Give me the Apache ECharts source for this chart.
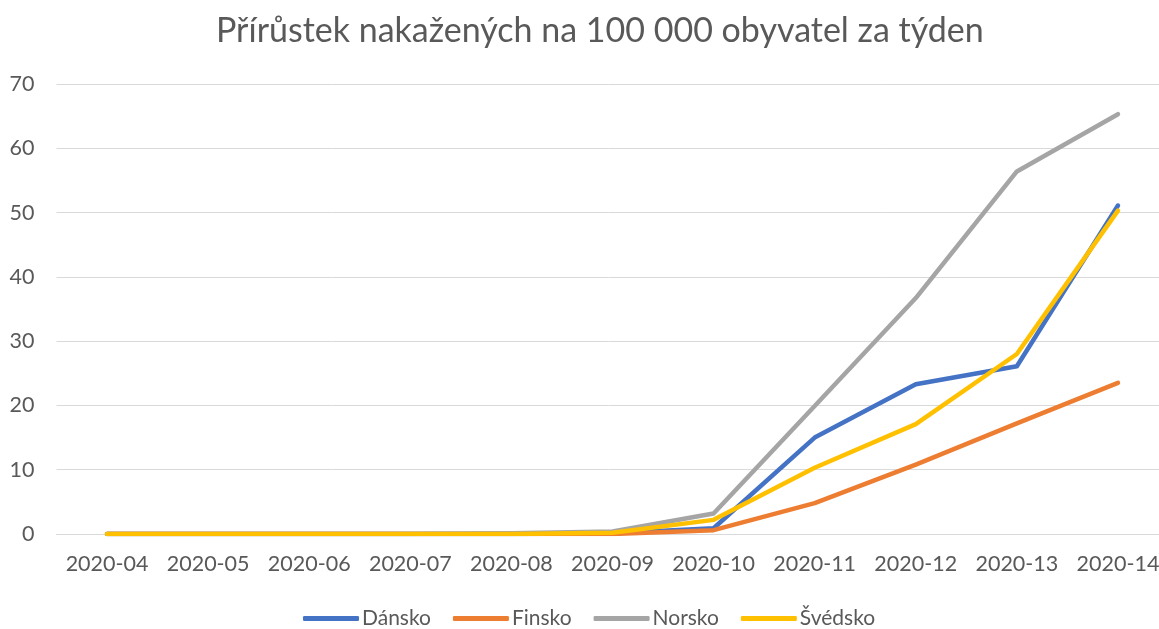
<!DOCTYPE html>
<html>
<head>
<meta charset="utf-8">
<title>Přírůstek nakažených</title>
<script src="https://cdn.jsdelivr.net/npm/echarts@6/dist/echarts.min.js"></script>
<style>
    html, body { margin: 0; padding: 0; background: #fff; }
    #graf { width: 1159px; height: 629px; }
</style>
</head>
<body>
<div id="graf"></div>
<script>
// tydny (osa x)
const tydny = ['2020-04', '2020-05', '2020-06', '2020-07', '2020-08', '2020-09', '2020-10', '2020-11', '2020-12', '2020-13', '2020-14'];

// prirustek na 100 000 obyvatel
const dansko = [0, 0, 0, 0, 0, 0.1, 0.9, 15.0, 23.3, 26.1, 51.1];
const finsko = [0, 0, 0, 0, 0, 0, 0.6, 4.8, 10.8, 17.2, 23.5];
const norsko = [0, 0, 0, 0, 0.1, 0.4, 3.2, 19.9, 36.7, 56.4, 65.3];
const svedsko = [0, 0, 0, 0, 0, 0.2, 2.2, 10.3, 17.1, 28.0, 50.3];

const nazvy = ['Dánsko', 'Finsko', 'Norsko', 'Švédsko'];
const barvy = ['#4472C4', '#ED7D31', '#A5A5A5', '#FFC000'];

const font = 'Lato, "Open Sans", sans-serif';
const sedaTextu = '#595959';

let grafika = echarts.init(document.querySelector('#graf'));

//jedna serie = jedna zeme
function serie(name, data, color) {
    return {
        name: name,
        type: 'line',
        data: data,
        symbol: 'none',
        color: color,
        lineStyle: { width: 4.5, color: color, cap: 'round', join: 'round' },
        emphasis: { disabled: true }
    };
}

let option = {
    animation: false,
    title: {
        text: 'Přírůstek nakažených na 100 000 obyvatel za týden',
        left: 211,
        top: 9,
        textStyle: { fontFamily: font, fontSize: 34, fontWeight: 'normal', color: sedaTextu }
    },
    legend: {
        top: 603,
        left: 298,
        data: nazvy,
        icon: 'roundRect',
        itemWidth: 56,
        itemHeight: 5,
        itemGap: 22,
        textStyle: { fontFamily: font, fontSize: 21, color: sedaTextu, padding: [0, 0, 0, -2] }
    },
    grid: {
        left: 56.5,
        right: -9.5,
        top: 84,
        bottom: 95,
        outerBoundsMode: 'none'
    },
    xAxis: {
        type: 'category',
        data: tydny,
        boundaryGap: true,
        axisLine: { lineStyle: { color: '#D9D9D9', width: 1 } },
        axisTick: { show: false },
        axisLabel: { interval: 0, fontFamily: font, fontSize: 21.5, color: sedaTextu, margin: 19 }
    },
    yAxis: {
        type: 'value',
        min: 0,
        max: 70,
        interval: 10,
        axisLine: { show: false },
        axisTick: { show: false },
        splitLine: { lineStyle: { color: '#D9D9D9', width: 1 } },
        axisLabel: { fontFamily: font, fontSize: 21.5, color: sedaTextu, margin: 22 }
    },
    series: [
        serie(nazvy[0], dansko, barvy[0]),
        serie(nazvy[1], finsko, barvy[1]),
        serie(nazvy[2], norsko, barvy[2]),
        serie(nazvy[3], svedsko, barvy[3])
    ]
};

grafika.setOption(option);
</script>
</body>
</html>
